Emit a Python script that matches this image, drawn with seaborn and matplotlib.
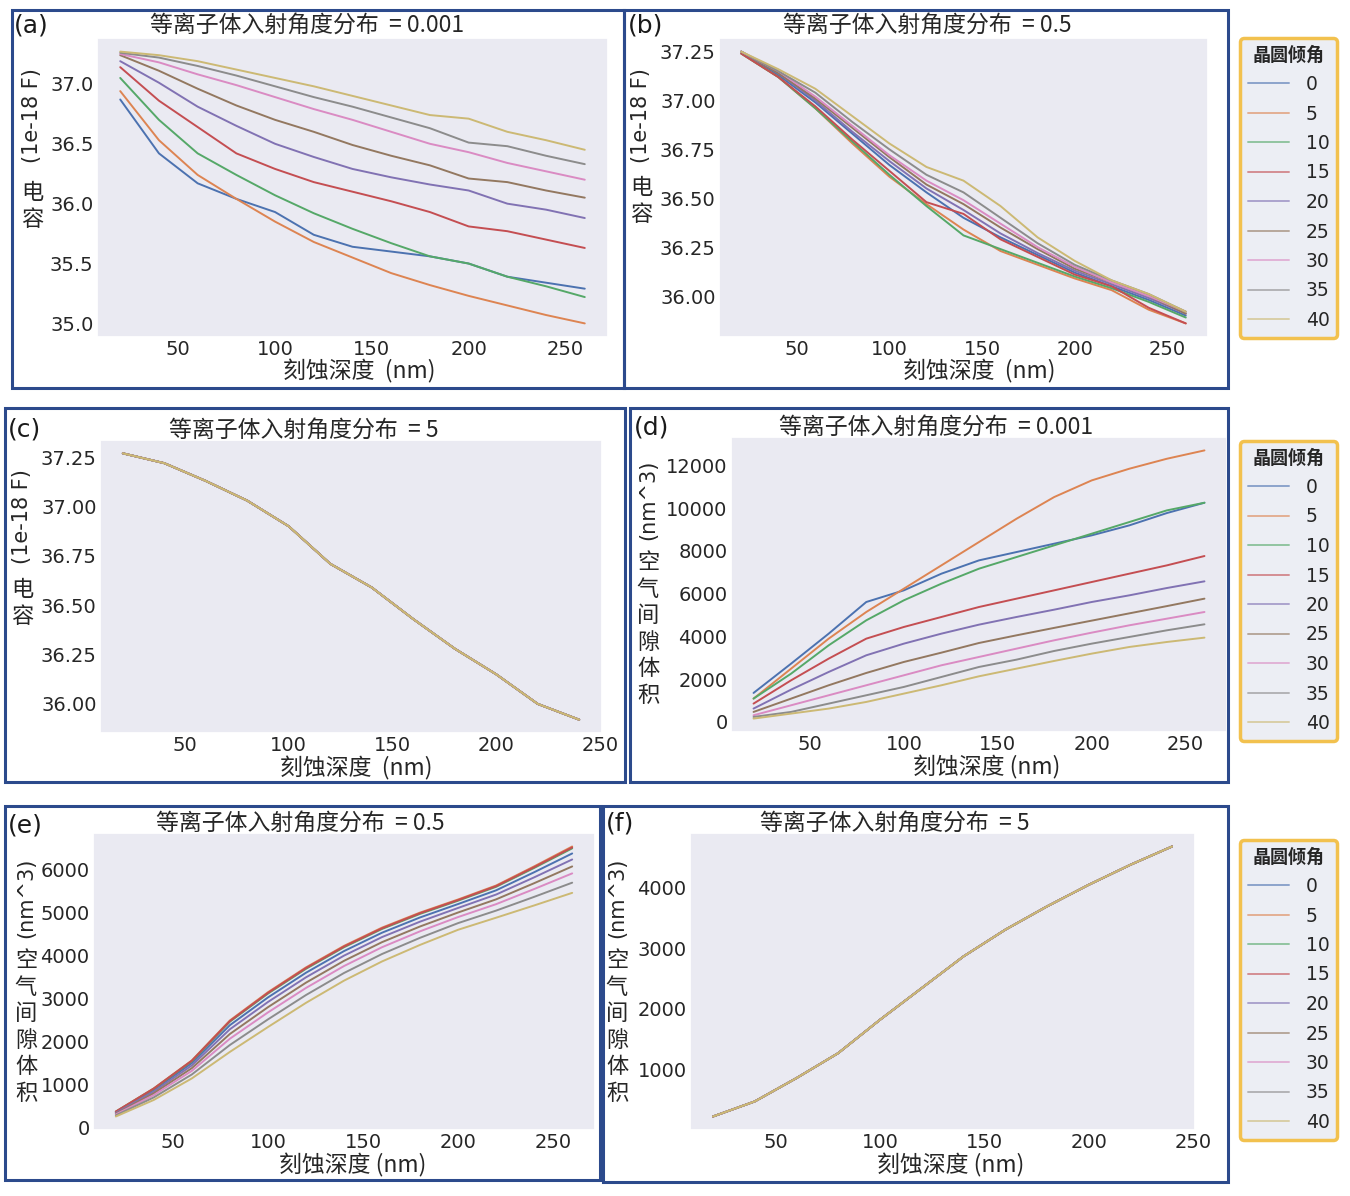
# 刻蚀深度 vs 电容 / 空气间隙体积 -- six panels
import pandas as pd
import seaborn as sns
import matplotlib.pyplot as plt
from matplotlib.patches import Rectangle
from matplotlib.lines import Line2D

# ---------------- data ----------------
depth = [20, 40, 60, 80, 100, 120, 140, 160, 180, 200, 220, 240, 260]
depth_short = [20, 40, 60, 80, 100, 120, 140, 160, 180, 200, 220, 240]
tilts = ['0', '5', '10', '15', '20', '25', '30', '35', '40']

# (a) capacitance, spread = 0.001
cap_a0 = [36.87, 36.42, 36.17, 36.04, 35.93, 35.74, 35.64, 35.60, 35.56, 35.50, 35.39, 35.34, 35.29]
cap_a5 = [36.94, 36.53, 36.24, 36.04, 35.85, 35.68, 35.55, 35.42, 35.32, 35.23, 35.15, 35.07, 35.00]
cap_a10 = [37.05, 36.70, 36.42, 36.24, 36.07, 35.92, 35.79, 35.67, 35.56, 35.50, 35.39, 35.31, 35.22]
cap_a15 = [37.14, 36.86, 36.64, 36.42, 36.29, 36.18, 36.10, 36.02, 35.93, 35.81, 35.77, 35.70, 35.63]
cap_a20 = [37.19, 37.01, 36.81, 36.65, 36.50, 36.39, 36.29, 36.22, 36.16, 36.11, 36.00, 35.95, 35.88]
cap_a25 = [37.24, 37.11, 36.96, 36.82, 36.70, 36.60, 36.49, 36.40, 36.32, 36.21, 36.18, 36.11, 36.05]
cap_a30 = [37.25, 37.18, 37.08, 36.99, 36.89, 36.79, 36.70, 36.60, 36.50, 36.43, 36.34, 36.27, 36.20]
cap_a35 = [37.26, 37.22, 37.15, 37.07, 36.98, 36.89, 36.81, 36.72, 36.63, 36.51, 36.48, 36.40, 36.33]
cap_a40 = [37.27, 37.24, 37.19, 37.12, 37.05, 36.98, 36.90, 36.82, 36.74, 36.71, 36.60, 36.53, 36.45]

# (b) capacitance, spread = 0.5
cap_b0 = [37.25, 37.13, 36.99, 36.83, 36.67, 36.53, 36.40, 36.30, 36.21, 36.12, 36.05, 35.98, 35.90]
cap_b5 = [37.24, 37.12, 36.96, 36.78, 36.61, 36.47, 36.34, 36.23, 36.16, 36.09, 36.03, 35.93, 35.86]
cap_b10 = [37.24, 37.12, 36.96, 36.79, 36.62, 36.46, 36.31, 36.24, 36.17, 36.10, 36.04, 35.97, 35.89]
cap_b15 = [37.24, 37.12, 36.97, 36.80, 36.64, 36.48, 36.42, 36.29, 36.20, 36.11, 36.05, 35.94, 35.86]
cap_b20 = [37.25, 37.14, 37.00, 36.84, 36.69, 36.55, 36.44, 36.32, 36.22, 36.13, 36.06, 35.99, 35.91]
cap_b25 = [37.25, 37.14, 37.01, 36.86, 36.71, 36.57, 36.47, 36.35, 36.24, 36.14, 36.07, 36.00, 35.91]
cap_b30 = [37.25, 37.15, 37.02, 36.87, 36.72, 36.59, 36.49, 36.37, 36.25, 36.15, 36.07, 36.00, 35.92]
cap_b35 = [37.25, 37.15, 37.04, 36.89, 36.75, 36.62, 36.53, 36.40, 36.27, 36.16, 36.08, 36.01, 35.92]
cap_b40 = [37.25, 37.16, 37.06, 36.92, 36.78, 36.66, 36.59, 36.46, 36.30, 36.18, 36.08, 36.01, 35.92]

# (c) capacitance, spread = 5 (all tilts coincide)
cap_c = [37.27, 37.22, 37.13, 37.03, 36.90, 36.71, 36.59, 36.43, 36.28, 36.15, 36.00, 35.92]

# (d) air gap volume, spread = 0.001
vol_d0 = [1356, 2728, 4131, 5612, 6157, 6937, 7560, 7950, 8340, 8730, 9197, 9774, 10257]
vol_d5 = [1091, 2494, 3897, 5144, 6235, 7326, 8418, 9509, 10522, 11302, 11848, 12315, 12705]
vol_d10 = [1091, 2260, 3585, 4754, 5690, 6469, 7171, 7716, 8262, 8808, 9353, 9899, 10257]
vol_d15 = [857, 1948, 2962, 3897, 4443, 4911, 5378, 5768, 6157, 6547, 6937, 7326, 7763]
vol_d20 = [624, 1512, 2338, 3118, 3663, 4131, 4552, 4911, 5253, 5612, 5923, 6266, 6578]
vol_d25 = [468, 1091, 1715, 2291, 2806, 3242, 3694, 4053, 4400, 4740, 5080, 5420, 5768]
vol_d30 = [312, 779, 1247, 1715, 2182, 2650, 3040, 3430, 3819, 4178, 4521, 4832, 5144]
vol_d35 = [234, 468, 857, 1247, 1637, 2104, 2572, 2915, 3320, 3663, 3975, 4287, 4568]
vol_d40 = [156, 390, 624, 935, 1325, 1715, 2135, 2494, 2853, 3196, 3507, 3741, 3944]

# (e) air gap volume, spread = 0.5
vol_e0 = [353, 870, 1497, 2380, 3025, 3600, 4104, 4532, 4887, 5199, 5518, 5939, 6376]
vol_e5 = [370, 910, 1560, 2490, 3146, 3724, 4225, 4650, 5000, 5305, 5630, 6075, 6538]
vol_e10 = [365, 899, 1543, 2461, 3114, 3691, 4193, 4619, 4970, 5277, 5600, 6039, 6495]
vol_e15 = [368, 905, 1552, 2475, 3130, 3708, 4209, 4634, 4985, 5291, 5615, 6057, 6516]
vol_e20 = [338, 834, 1443, 2285, 2919, 3493, 3998, 4430, 4789, 5108, 5420, 5820, 6236]
vol_e25 = [320, 794, 1380, 2175, 2798, 3369, 3877, 4312, 4677, 5002, 5308, 5684, 6074]
vol_e30 = [303, 753, 1317, 2065, 2676, 3246, 3756, 4194, 4564, 4896, 5196, 5548, 5912]
vol_e35 = [280, 699, 1233, 1919, 2514, 3081, 3594, 4036, 4413, 4755, 5046, 5366, 5696]
vol_e40 = [254, 640, 1141, 1758, 2336, 2899, 3416, 3863, 4248, 4600, 4881, 5166, 5459]

# (f) air gap volume, spread = 5 (all tilts coincide)
vol_f = [235, 482, 865, 1275, 1822, 2342, 2862, 3300, 3683, 4038, 4367, 4668]


def long_df(x, series):
    rows = []
    for t, vals in zip(tilts, series):
        rows += [(xi, v, t) for xi, v in zip(x, vals)]
    return pd.DataFrame(rows, columns=['depth', 'value', 'tilt'])


panels = [
    long_df(depth, [cap_a0, cap_a5, cap_a10, cap_a15, cap_a20, cap_a25, cap_a30, cap_a35, cap_a40]),
    long_df(depth, [cap_b0, cap_b5, cap_b10, cap_b15, cap_b20, cap_b25, cap_b30, cap_b35, cap_b40]),
    long_df(depth_short, [cap_c] * 9),
    long_df(depth, [vol_d0, vol_d5, vol_d10, vol_d15, vol_d20, vol_d25, vol_d30, vol_d35, vol_d40]),
    long_df(depth, [vol_e0, vol_e5, vol_e10, vol_e15, vol_e20, vol_e25, vol_e30, vol_e35, vol_e40]),
    long_df(depth_short, [vol_f] * 9),
]

# ---------------- style / layout ----------------
sns.set_theme(style='dark', palette='deep')
plt.rcParams['font.family'] = ['DejaVu Sans', 'Noto Sans CJK SC']
CJK = ['Noto Sans CJK SC', 'DejaVu Sans']
colors = sns.color_palette('deep', 9)

W, H = 1350, 1196
fig = plt.figure(figsize=(W / 100, H / 100), dpi=100)


def box(l, t, r, b):
    return [l / W, 1 - b / H, (r - l) / W, (b - t) / H]


def ftext(x, y, s, **kw):
    fig.text(x / W, 1 - y / H, s, **kw)


axes_px = [(97, 38, 608, 337), (719, 38, 1208, 337),
           (100, 440, 602, 733), (731, 437, 1227, 732),
           (93, 833, 595, 1130), (690, 833, 1195, 1130)]

for df, pos in zip(panels, axes_px):
    ax = fig.add_axes(box(*pos))
    sns.lineplot(data=df, x='depth', y='value', hue='tilt', hue_order=tilts,
                 palette=colors, legend=False, ax=ax, linewidth=1.4)
    ax.set_xticks([50, 100, 150, 200, 250])
    ax.set_xlabel('')
    ax.set_ylabel('')
    ax.tick_params(labelsize=14, colors='#262626', length=0, pad=2.5)

# titles, labels
titles = [(307, 25, '0.001'), (927, 25, '0.5'), (304, 430, '5'),
          (936, 427, '0.001'), (300, 823, '0.5'), (895, 823, '5')]
for x, y, v in titles:
    ftext(x, y, '等离子体入射角度分布  = ' + v, ha='center', va='center',
          fontsize=16.5, family=CJK, color='#262626')

letters = [(14, 25, '(a)'), (628, 25, '(b)'), (8, 430, '(c)'),
           (634, 428, '(d)'), (8, 825, '(e)'), (606, 823, '(f)')]
for x, y, s in letters:
    ftext(x, y, s, ha='left', va='center', fontsize=18, color='#1a1a1a')

xlabels = [(359, 371, '刻蚀深度  (nm)'), (979, 371, '刻蚀深度  (nm)'),
           (356, 768, '刻蚀深度  (nm)'), (987, 767, '刻蚀深度 (nm)'),
           (353, 1165, '刻蚀深度 (nm)'), (951, 1165, '刻蚀深度 (nm)')]
for x, y, s in xlabels:
    ftext(x, y, s, ha='center', va='center', fontsize=16.5, family=CJK, color='#262626')

# y labels: rotated unit + upright stacked characters
ylabels = [(32, 116, 181, '(1e-18 F)', '电容'), (641, 116, 176, '(1e-18 F)', '电容'),
           (22, 517, 578, '(1e-18 F)', '电容'), (648, 500, 551, '(nm^3)', '空气间隙体积'),
           (26, 898, 949, '(nm^3)', '空气间隙体积'), (617, 898, 949, '(nm^3)', '空气间隙体积')]
for x, yu, yc, unit, chars in ylabels:
    ftext(x, yu, unit, rotation=90, ha='center', va='center', fontsize=15, color='#262626')
    ftext(x, yc, '\n'.join(chars), ha='center', va='top', fontsize=16,
          family=CJK, linespacing=1.2, color='#262626')

# panel frames
frames = [(12, 10, 624, 388), (624, 10, 1228, 388), (5, 408, 625, 782),
          (630, 408, 1228, 782), (5, 806, 600, 1180), (603, 806, 1228, 1182)]
for l, t, r, b in frames:
    fig.add_artist(Rectangle((l / W, 1 - b / H), (r - l) / W, (b - t) / H,
                             transform=fig.transFigure, fill=False,
                             edgecolor='#2C4A8C', linewidth=2.2))

# legends
handles = [Line2D([], [], color=c, linewidth=1.4, alpha=0.6) for c in colors]
for top in [38, 441, 840]:
    leg = fig.legend(handles, tilts, title='晶圆倾角', loc='upper left',
                     bbox_to_anchor=(1240 / W, 1 - top / H), bbox_transform=fig.transFigure,
                     borderaxespad=0, fontsize=13.5, handlelength=2.2, handletextpad=0.9,
                     labelspacing=0.56, frameon=True, fancybox=True, framealpha=1,
                     facecolor='#ECEEF4', edgecolor='#F2C14E')
    leg.get_frame().set_linewidth(2.5)
    leg.get_title().set_fontfamily(CJK)
    leg.get_title().set_fontsize(13)
    leg.get_title().set_fontweight('bold')

fig.savefig('out.png', dpi=100)
